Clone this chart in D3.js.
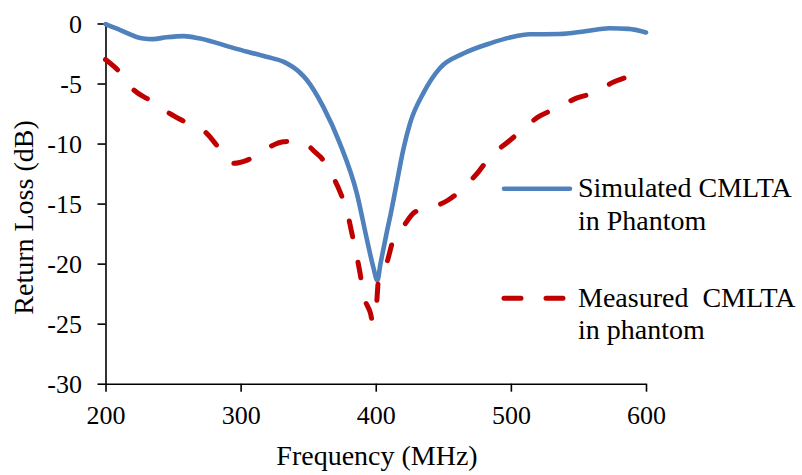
<!DOCTYPE html>
<html>
<head>
<meta charset="utf-8">
<script src="https://cdn.jsdelivr.net/npm/d3@7"></script>
<style>
  body { margin: 0; background: #fff; }
</style>
</head>
<body>
<div id="chart"></div>
<script>
// simulated curve
const simFreq = [200, 211, 228, 235, 245, 258, 270, 295, 319, 332, 344, 349, 361, 373.5, 386, 393.3, 398.2, 401.2, 403.5, 406, 408.5, 411, 415.5, 420.4, 425.4, 435.2, 447.6, 464.8, 484.6, 500, 514, 536, 555, 573, 587, 600];
const simLoss = [-0.05, -0.55, -1.25, -1.3, -1.15, -1.05, -1.25, -2.05, -2.77, -3.2, -4.1, -4.7, -6.9, -10.0, -14.15, -17.9, -20.3, -21.4, -20.0, -18.6, -17.2, -15.9, -13.3, -10.5, -8.3, -5.8, -3.7, -2.5, -1.65, -1.15, -0.9, -0.88, -0.65, -0.4, -0.45, -0.75];

// measured curve
const measFreq = [200, 211, 220.6, 233, 247.7, 258.8, 274.9, 283.5, 294.6, 304.5, 319.3, 331.6, 340, 349, 356, 359, 368.5, 373.5, 379.5, 382, 386, 388.4, 390.8, 396, 397.8, 400.5, 402, 408, 413, 420.4, 429, 439, 453.7, 464.8, 476, 484.6, 498, 507, 520, 534, 549, 561, 575.6, 591];
const measLoss = [-3.0, -4.1, -5.5, -6.4, -7.5, -8.2, -9.15, -10.3, -11.65, -11.4, -10.4, -9.85, -9.8, -10.1, -10.8, -11.1, -12.8, -14.0, -16.0, -17.3, -19.4, -20.8, -22.5, -24.1, -24.85, -23.5, -21.4, -20.0, -18.0, -16.9, -15.7, -15.4, -14.7, -13.7, -12.35, -11.1, -9.85, -9.0, -7.8, -7.05, -6.2, -5.8, -4.9, -4.3];

const xTicks = [200, 300, 400, 500, 600];
const yTicks = [0, -5, -10, -15, -20, -25, -30];
const seriesNames = [["Simulated CMLTA", "in Phantom"], ["Measured  CMLTA", "in phantom"]];

const width = 802;
const height = 475;
const serif = '"Liberation Serif", "Times New Roman", serif';

let svg = d3.select('#chart')
    .append('svg')
    .attr('width', width)
    .attr('height', height);

let x = d3.scaleLinear().domain([200, 600]).range([105.5, 646]);
let y = d3.scaleLinear().domain([-30, 0]).range([383.7, 23.5]);

// axes
let xAxis = svg.append('g')
    .attr('transform', `translate(0, ${y(-30)})`)
    .attr('font-family', serif)
    .call(d3.axisBottom(x).tickValues(xTicks).tickSize(8).tickSizeOuter(0).tickFormat(d => String(d)));
xAxis.selectAll('text')
    .attr('y', 40.5)
    .attr('dy', null)
    .style('font-family', serif)
    .style('font-size', '26px');

let yAxis = svg.append('g')
    .attr('transform', `translate(${x(200)}, 0)`)
    .attr('font-family', serif)
    .call(d3.axisLeft(y).tickValues(yTicks).tickSize(8).tickSizeOuter(0).tickPadding(15.5).tickFormat(d => String(d)));
yAxis.selectAll('text')
    .attr('dy', '0.33em')
    .style('font-family', serif)
    .style('font-size', '26px');

svg.selectAll('.domain, .tick line')
    .attr('stroke', '#000')
    .attr('stroke-width', 1.6);

// axis titles
svg.append('text')
    .attr('x', 377)
    .attr('y', 465)
    .attr('text-anchor', 'middle')
    .style('font-family', serif)
    .style('font-size', '28px')
    .text('Frequency (MHz)');

svg.append('text')
    .attr('transform', 'translate(33, 217.5) rotate(-90)')
    .attr('text-anchor', 'middle')
    .style('font-family', serif)
    .style('font-size', '28px')
    .text('Return Loss (dB)');

// lines
let line = d3.line()
    .x(d => x(d[0]))
    .y(d => y(d[1]))
    .curve(d3.curveMonotoneX);

let simData = simFreq.map((f, i) => [f, simLoss[i]]);
let measData = measFreq.map((f, i) => [f, measLoss[i]]);

svg.append('path')
    .datum(simData)
    .attr('d', line)
    .attr('fill', 'none')
    .attr('stroke', '#4F81BD')
    .attr('stroke-width', 4.6)
    .attr('stroke-linecap', 'round')
    .attr('stroke-linejoin', 'round');

svg.append('path')
    .datum(measData)
    .attr('d', line)
    .attr('fill', 'none')
    .attr('stroke', '#C00000')
    .attr('stroke-width', 5)
    .attr('stroke-linecap', 'round')
    .attr('stroke-linejoin', 'round')
    .attr('stroke-dasharray', '16,26');

// legend
let legend = svg.append('g');

legend.append('line')
    .attr('x1', 504).attr('x2', 570)
    .attr('y1', 188.7).attr('y2', 188.7)
    .attr('stroke', '#4F81BD')
    .attr('stroke-width', 4.6)
    .attr('stroke-linecap', 'round');

legend.append('line')
    .attr('x1', 504).attr('x2', 570)
    .attr('y1', 298.3).attr('y2', 298.3)
    .attr('stroke', '#C00000')
    .attr('stroke-width', 5)
    .attr('stroke-linecap', 'round')
    .attr('stroke-dasharray', '17,25');

let legendY = [[197.3, 230], [306.7, 338.5]];
seriesNames.forEach(function(lines, i) {
    lines.forEach(function(t, j) {
        legend.append('text')
            .attr('x', 578)
            .attr('y', legendY[i][j])
            .style('font-family', serif)
            .style('font-size', '28px')
            .style('white-space', 'pre')
            .text(t);
    });
});
</script>
</body>
</html>
